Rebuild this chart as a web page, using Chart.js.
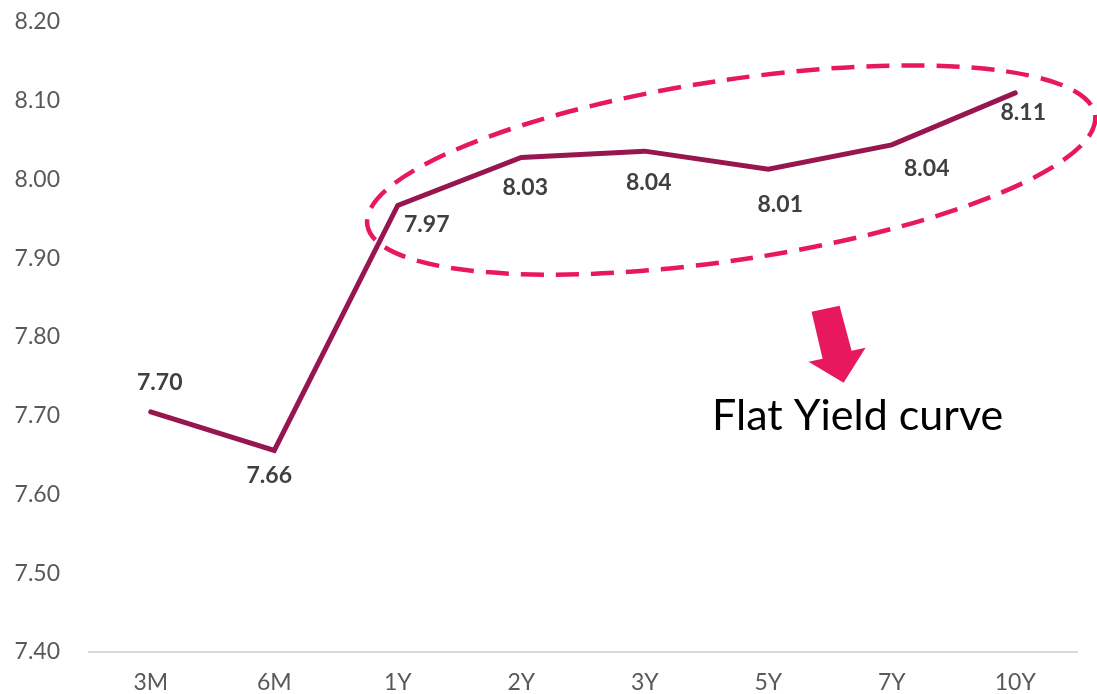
<!DOCTYPE html>
<html>
<head>
<meta charset="utf-8">
<script src="https://cdn.jsdelivr.net/npm/chart.js@4"></script>
<style>
  html, body { margin: 0; padding: 0; background: #fff; }
  #wrap { width: 1097px; height: 694px; }
</style>
</head>
<body>
<div id="wrap"><canvas id="curve"></canvas></div>
<script>
// Data
const tenors = ["3M", "6M", "1Y", "2Y", "3Y", "5Y", "7Y", "10Y"];
const yields = [7.705, 7.656, 7.967, 8.028, 8.036, 8.013, 8.044, 8.11];
const yieldLabels = ["7.70", "7.66", "7.97", "8.03", "8.04", "8.01", "8.04", "8.11"];
const yTicks = [7.40, 7.50, 7.60, 7.70, 7.80, 7.90, 8.00, 8.10, 8.20];

// label offsets (px) from each point
const labelOffsets = [[9, -29], [-5, 25], [29, 19], [4, 30], [4, 31], [12, 35], [35, 24], [8, 20]];

const PINK = "#e8185f";

// value labels next to the points
const pointLabels = {
  id: "pointLabels",
  afterDatasetsDraw(chart) {
    const ctx = chart.ctx;
    const meta = chart.getDatasetMeta(0);
    ctx.save();
    ctx.font = "bold 23px Lato";
    ctx.fillStyle = "#404040";
    ctx.textAlign = "center";
    ctx.textBaseline = "middle";
    meta.data.forEach((pt, i) => {
      const [dx, dy] = labelOffsets[i];
      ctx.fillText(yieldLabels[i], pt.x + dx, pt.y + dy);
    });
    ctx.restore();
  }
};

// dashed ellipse, arrow and caption
const callout = {
  id: "callout",
  afterDraw(chart) {
    const { ctx, scales: { x, y } } = chart;
    ctx.save();

    // ellipse around the flat part
    const cx = x.getPixelForValue(4.70);
    const cy = y.getPixelForValue(8.012);
    ctx.strokeStyle = PINK;
    ctx.lineWidth = 4.5;
    ctx.setLineDash([23, 12]);
    ctx.beginPath();
    ctx.ellipse(cx, cy, 368, 90, -8.6 * Math.PI / 180, 0, Math.PI * 2);
    ctx.stroke();
    ctx.setLineDash([]);

    // arrow
    const tx = x.getPixelForValue(5.61);
    const ty = y.getPixelForValue(7.742);
    const arrow = [[-32, -71], [-4, -77], [8, -32], [22, -35], [0, 0], [-35, -21], [-21, -24]];
    ctx.fillStyle = PINK;
    ctx.beginPath();
    arrow.forEach(([dx, dy], i) => i ? ctx.lineTo(tx + dx, ty + dy) : ctx.moveTo(tx + dx, ty + dy));
    ctx.closePath();
    ctx.fill();

    // caption
    ctx.fillStyle = "#000";
    ctx.font = "43px Lato";
    ctx.textAlign = "left";
    ctx.textBaseline = "alphabetic";
    ctx.fillText("Flat Yield curve", x.getPixelForValue(4.545), y.getPixelForValue(7.682));

    ctx.restore();
  }
};

new Chart(document.getElementById("curve"), {
  type: "line",
  data: {
    labels: tenors,
    datasets: [{
      data: yields,
      borderColor: "#981650",
      borderWidth: 5,
      pointRadius: 0,
      tension: 0,
      borderCapStyle: "round"
    }]
  },
  options: {
    responsive: true,
    maintainAspectRatio: false,
    animation: false,
    layout: { padding: { top: 22, right: 20, left: 0, bottom: 0 } },
    plugins: { legend: { display: false }, tooltip: { enabled: false } },
    scales: {
      x: {
        offset: true,
        grid: { display: false, drawTicks: false },
        border: { color: "#d9d9d9", width: 2 },
        ticks: { color: "#595959", font: { family: "Lato", size: 23 }, padding: 17 },
        afterFit: s => { s.height = 42; }
      },
      y: {
        min: 7.40,
        max: 8.20,
        grid: { display: false, drawTicks: false },
        border: { display: false },
        afterBuildTicks: s => { s.ticks = yTicks.map(v => ({ value: v })); },
        ticks: {
          color: "#595959",
          font: { family: "Lato", size: 23 },
          padding: 29,
          callback: v => v.toFixed(2)
        },
        afterFit: s => { s.width = 89; s.paddingTop = 0; s.paddingBottom = 0; }
      }
    }
  },
  plugins: [pointLabels, callout]
});
</script>
</body>
</html>
